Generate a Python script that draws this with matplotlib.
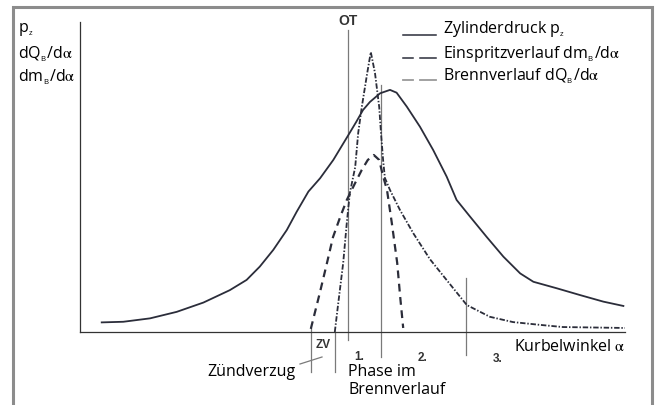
import matplotlib
matplotlib.use("Agg")
import matplotlib.pyplot as plt
from matplotlib.lines import Line2D
from matplotlib.patches import Rectangle

plt.rcParams['font.family'] = ['Open Sans', 'DejaVu Sans']
plt.rcParams['mathtext.fontset'] = 'stix'

# crank angle in deg relative to OT, curve values in % of the y scale
p_angle = [-41.05, -37.45, -33.0, -28.55, -24.1, -19.7, -16.9, -14.7, -12.45, -10.2,
           -8.55, -6.6, -4.65, -2.45, 0.05, 1.35, 2.5, 3.65, 5.35, 7.0, 8.1, 9.8,
           12.0, 14.2, 16.45, 18.1, 20.35, 23.1, 25.9, 28.7, 30.9, 34.8, 38.7,
           42.55, 45.9]
p_value = [3.1, 3.3, 4.4, 6.5, 9.5, 13.5, 16.8, 21.1, 26.5, 32.9,
           38.8, 45.3, 49.6, 55.5, 63.5, 67.7, 71.6, 74.2, 77.0, 78.1, 77.2, 72.7,
           66.2, 58.7, 50.1, 42.6, 37.2, 30.7, 24.3, 18.9, 16.2, 14.1, 11.9,
           9.8, 8.4]

inj_angle = [-6.2, -4.7, -3.5, -2.5, -1.3, -0.2, 1.2, 2.3, 3.3, 4.3, 5.2, 5.8,
             6.5, 7.3, 8.2, 8.7, 9.2]
inj_value = [1.0, 12.6, 22.3, 30.6, 37.1, 42.6, 48.1, 52.3, 55.5, 57.1, 55.5, 50.6,
             45.8, 35.2, 22.3, 11.3, 1.3]

burn_angle = [-2.2, -1.7, -0.8, -0.2, 0.3, 1.2, 1.7, 2.3, 3.2, 3.8, 4.5, 5.2, 5.5,
              5.85, 6.15, 7.0, 8.65, 10.9, 13.65, 16.3, 19.8, 23.65, 27.5, 32.0,
              35.8, 46.2]
burn_value = [0.0, 8.1, 22.3, 35.2, 44.8, 53.2, 64.2, 72.6, 83.5, 90.3, 83.5, 72.6, 64.2,
              55.5, 49.7, 45.8, 39.4, 31.8, 23.5, 17.1, 8.7, 4.9, 3.2, 2.3,
              1.6, 1.3]

# vertical marks: injection start, ignition, OT, end phase 1, end phase 2
mark_angle = [-6.2, -2.2, 0.0, 5.5, 19.7]
mark_low = [-12.9, -12.9, -2.6, -8.1, -7.4]
mark_high = [1.3, 0.0, 97.4, 79.7, 17.4]

W, H = 657, 405
ink = '#2b2d3a'


def fxy(x, y):
    # pixel position -> figure fraction
    return x / W, 1 - y / H


fig = plt.figure(figsize=(W / 100, H / 100), dpi=100)
ax = fig.add_axes([80 / W, 1 - 332 / H, 545 / W, 310 / H])
ax.set_xlim(-44.67, 46.17)
ax.set_ylim(0, 100)
for s in ['top', 'right']:
    ax.spines[s].set_visible(False)
for s in ['left', 'bottom']:
    ax.spines[s].set_color('#333333')
    ax.spines[s].set_linewidth(0.9)
ax.set_xticks([])
ax.set_yticks([])
ax.patch.set_alpha(0)

for a, lo, hi in zip(mark_angle, mark_low, mark_high):
    ax.plot([a, a], [lo, hi], color='#7a7a7a', lw=0.9, clip_on=False)

ax.plot(p_angle, p_value, color=ink, lw=1.3, solid_joinstyle='round')
ax.plot(inj_angle, inj_value, color=ink, lw=1.6, ls=(0, (3.5, 2.5)), clip_on=False)
ax.plot(burn_angle, burn_value, color=ink, lw=1.3, ls=(0, (3, 1.0, 0.8, 1.0)))

# outer frame
fig.add_artist(Rectangle(fxy(13, 420), (652 - 13) / W, (420 - 7) / H,
                         transform=fig.transFigure, fill=False,
                         edgecolor='#8c8c8c', lw=2.2))

# y axis label
fs = 11.5
sub = lambda c: r'$_{_\mathregular{%s}}$' % c
alpha = r'$\mathrm{\alpha}$'
fig.text(*fxy(18, 30), 'p' + sub('z'), fontsize=fs, va='center', ha='left')
fig.text(*fxy(18, 54), 'dQ' + sub('B') + '/d' + alpha, fontsize=fs, va='center', ha='left')
fig.text(*fxy(18, 77), 'dm' + sub('B') + '/d' + alpha, fontsize=fs, va='center', ha='left')

# legend
fig.add_artist(Line2D([403 / W, 436 / W], [1 - 35 / H] * 2, color=ink, lw=1.1))
for x0, x1 in [(403, 413), (420, 436)]:
    fig.add_artist(Line2D([x0 / W, x1 / W], [1 - 58 / H] * 2, color=ink, lw=1.1))
    fig.add_artist(Line2D([x0 / W, x1 / W], [1 - 80 / H] * 2, color='#9a9a9a', lw=1.3))
fig.text(*fxy(443, 29), 'Zylinderdruck p' + sub('z'), fontsize=fs, va='center')
fig.text(*fxy(443, 54), 'Einspritzverlauf dm' + sub('B') + '/d' + alpha,
         fontsize=fs, va='center')
fig.text(*fxy(443, 76), 'Brennverlauf dQ' + sub('B') + '/d' + alpha,
         fontsize=fs, va='center')

# small bold labels
bold = dict(family=['Liberation Sans', 'DejaVu Sans'], fontweight='bold', color='#333333')
fig.text(*fxy(348, 21), 'OT', fontsize=10, ha='center', va='center', **bold)
fig.text(*fxy(323, 345), 'ZV', fontsize=8.5, ha='center', va='center', **bold)
fig.text(*fxy(359, 357), '1.', fontsize=8.5, ha='center', va='center', **bold)
fig.text(*fxy(423, 358), '2.', fontsize=8.5, ha='center', va='center', **bold)
fig.text(*fxy(498, 359), '3.', fontsize=8.5, ha='center', va='center', **bold)

# annotations below the axis
fig.text(*fxy(296, 372), 'Zündverzug', fontsize=fs, ha='right', va='center')
fig.add_artist(Line2D([300 / W, 322 / W], [1 - 364 / H, 1 - 357 / H], color='#7a7a7a', lw=0.9))
fig.text(*fxy(348, 372), 'Phase im', fontsize=fs, ha='left', va='center')
fig.text(*fxy(348, 390), 'Brennverlauf', fontsize=fs, ha='left', va='center')
fig.text(*fxy(625, 347), 'Kurbelwinkel ' + alpha, fontsize=fs, ha='right', va='center')

fig.savefig('out.png', dpi=100)
